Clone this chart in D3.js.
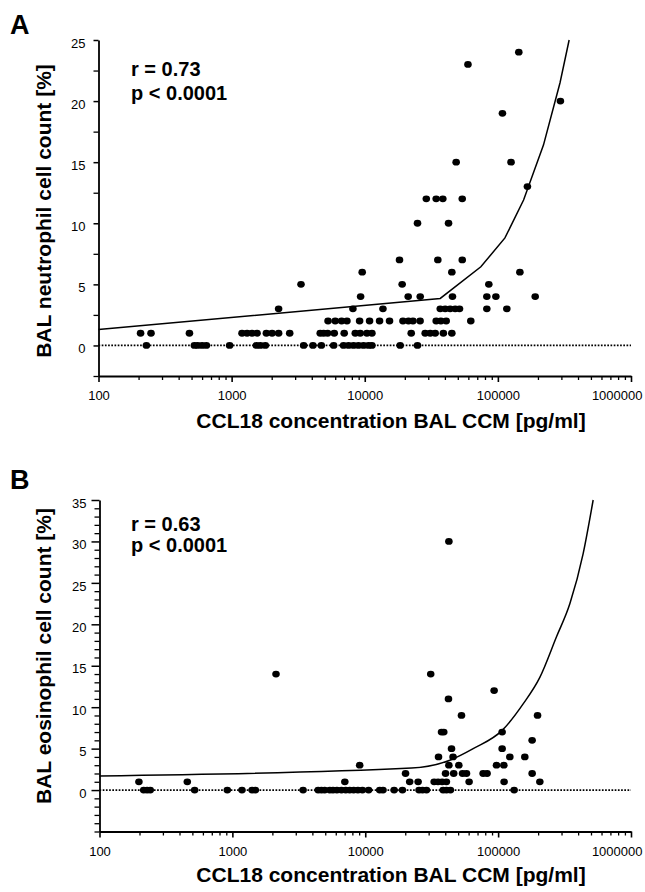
<!DOCTYPE html>
<html><head><meta charset="utf-8">
<script src="https://cdn.jsdelivr.net/npm/d3@7"></script>
<style>
body{margin:0;background:#fff}
svg{display:block}
text{font-family:"Liberation Sans",Arial,Helvetica,sans-serif;fill:#000}
</style>
</head><body>
<svg id="chart" width="645" height="892"></svg>
<script>
// ---------------- DATA ----------------
const xMajorTicks = [100, 1000, 10000, 100000, 1000000];
const xTickLabels = ["100", "1000", "10000", "100000", "1000000"];
const yTickLabelsA = [0, 5, 10, 15, 20, 25];
const yTickLabelsB = [0, 5, 10, 15, 20, 25, 30, 35];
const xTitle = "CCL18 concentration BAL CCM [pg/ml]";
const yTitleA = "BAL neutrophil cell count [%]";
const yTitleB = "BAL eosinophil cell count [%]";
const statsA = ["r = 0.73", "p < 0.0001"];
const statsB = ["r = 0.63", "p < 0.0001"];

// Panel A: [CCL18 pg/ml, neutrophil %]
const neutrophilPoints = [
  [229,0],[525,0],[556,0],[600,0],[646,0],[966,0],[1535,0],[1644,0],[1791,0],[3475,0],[4080,0],[4720,0],
  [5840,0],[6930,0],[7560,0],[8240,0],[8970,0],[9790,0],[10670,0],[11320,0],[18450,0],[24900,0],
  [207,1],[248,1],[482,1],[1197,1],[1306,1],[1423,1],[1552,1],[1824,1],[2013,1],[2254,1],[2731,1],
  [4630,1],[4910,1],[5260,1],[5900,1],[7010,1],[8490,1],[9250,1],[10380,1],[11320,1],[22340,1],
  [28440,1],[31040,1],[33810,1],[38950,1],[45100,1],
  [5300,2],[6000,2],[6700,2],[7350,2],[9150,2],[10870,2],[12920,2],[15350,2],[19360,2],[21320,2],
  [23020,2],[26050,2],[34400,2],[37300,2],[40900,2],[62600,2],
  [2254,3],[8150,3],[13700,3],[36900,3],[40200,3],[43800,3],[47800,3],[51500,3],[82600,3],[116700,3],
  [9310,4],[21200,4],[26100,4],[45600,4],[82600,4],[96600,4],[190700,4],
  [3320,5],[19100,5],[85500,5],
  [9570,6],[45100,6],[146300,6],
  [18240,7],[35400,7],[54000,7],
  [24900,10],[42600,10],
  [29000,12],[34400,12],[38600,12],[54000,12],
  [166700,13],
  [48600,15],[125600,15],
  [108200,19],
  [295000,20],
  [59600,23],
  [143600,24]
];
// Panel A regression line vertices
const fitLineA = [[100,1.3],[36900,3.85],[74500,6.44],[113000,8.8],[156000,11.9],[220000,16.4],[293000,21.5],[343000,25]];

// Panel B: [CCL18 pg/ml, eosinophil %]
const eosinophilPoints = [
  [215,0],[228,0],[241,0],[520,0],[916,0],[1181,0],[1407,0],[1489,0],[3405,0],[4420,0],[4680,0],[4950,0],
  [5410,0],[5720,0],[6120,0],[6620,0],[7130,0],[7640,0],[8180,0],[8810,0],[9520,0],[10600,0],[12850,0],
  [13600,0],[16490,0],[19050,0],[25400,0],[26970,0],[28900,0],[38550,0],[40830,0],[43750,0],[132000,0],
  [198,1],[458,1],[7020,1],[21600,1],[25000,1],[33000,1],[35300,1],[37900,1],[40800,1],[60500,1],[110900,1],[206000,1],
  [20100,2],[40200,2],[46300,2],[54000,2],[57800,2],[77100,2],[82600,2],[180300,2],
  [9080,3],[42600,3],[50600,3],[97200,3],[110400,3],
  [35600,4],[45800,4],[122500,4],[158800,4],
  [44600,5],[107200,5],
  [180300,6],
  [37500,7],[39000,7],[107200,7],
  [53000,9],[198000,9],
  [42300,11],
  [93300,12],
  [2130,14],[31100,14],
  [42600,30]
];
// Panel B regression line vertices
const fitLineB = [[100,1.7],[22300,2.65],[43300,3.6],[64900,5.0],[107200,7.2],[154300,10.4],[206000,13.6],[275000,18.5],[347000,22.5],[436000,28.5],[519000,35]];

// ---------------- DRAW ----------------
const svg = d3.select("#chart");
const FONT_TICK = 13, FONT_TITLE = 21;

function panel(cfg) {
  const g = svg.append("g");
  const x = d3.scaleLog().domain([100, 1000000]).range([cfg.x0, cfg.x1]);
  const y = d3.scaleLinear().domain(cfg.yDomain).range([cfg.yBottom, cfg.yTop]);

  // minor x ticks
  const minor = [];
  for (let d = 100; d < 1000000; d *= 10) for (let k = 2; k <= 9; k++) minor.push(d * k);
  g.append("g").attr("transform", `translate(0,${cfg.yBottom})`)
    .call(d3.axisBottom(x).tickValues(minor).tickSize(4).tickSizeOuter(0).tickFormat(""))
    .call(a => a.select(".domain").remove())
    .call(a => a.selectAll("line").attr("stroke", "#000").attr("stroke-width", 1.3));

  const xa = g.append("g").attr("transform", `translate(0,${cfg.yBottom})`)
    .call(d3.axisBottom(x).tickValues(xMajorTicks).tickSize(6).tickSizeOuter(0)
      .tickFormat((d, i) => xTickLabels[i]).tickPadding(9));
  xa.select(".domain").attr("stroke", "#000").attr("stroke-width", 1.8);
  xa.selectAll("line").attr("stroke", "#000").attr("stroke-width", 1.6);
  xa.selectAll("text").attr("font-size", FONT_TICK).attr("font-family", "Liberation Sans, Arial, sans-serif");
  xa.selectAll(".tick").filter(d => d === 1000000).select("text").attr("text-anchor", "end").attr("dx", 11);

  // y minor ticks
  g.append("g").attr("transform", `translate(${cfg.x0},0)`)
    .call(d3.axisLeft(y).tickValues(cfg.yMinor).tickSize(cfg.minorLen).tickSizeOuter(0).tickFormat(""))
    .call(a => a.select(".domain").remove())
    .call(a => a.selectAll("line").attr("stroke", "#000").attr("stroke-width", 1.3));
  const ya = g.append("g").attr("transform", `translate(${cfg.x0},0)`)
    .call(d3.axisLeft(y).tickValues(cfg.yLabels).tickSize(cfg.majorLen).tickSizeOuter(0).tickPadding(13 - cfg.majorLen));
  ya.select(".domain").attr("stroke", "#000").attr("stroke-width", 1.8);
  ya.selectAll("line").attr("stroke", "#000").attr("stroke-width", 1.5);
  ya.selectAll("text").attr("font-size", FONT_TICK).attr("font-family", "Liberation Sans, Arial, sans-serif").attr("dy", "0.55em");

  // zero reference line (dotted)
  g.append("line")
    .attr("x1", x(100)).attr("x2", x(1000000))
    .attr("y1", y(0)).attr("y2", y(0))
    .attr("stroke", "#000").attr("stroke-width", 1.8).attr("stroke-dasharray", "1.7,1.5");

  // regression line
  g.append("path").datum(cfg.fit)
    .attr("fill", "none").attr("stroke", "#000").attr("stroke-width", 1.5)
    .attr("d", d3.line().x(d => x(d[0])).y(d => y(d[1])).curve(cfg.curve));

  // points
  g.append("g").selectAll("ellipse").data(cfg.points).join("ellipse")
    .attr("cx", d => x(d[0])).attr("cy", d => y(d[1]))
    .attr("rx", 3.8).attr("ry", 3.4).attr("fill", "#000");

  // axis titles
  g.append("text").attr("x", 391).attr("y", cfg.xTitleY)
    .attr("text-anchor", "middle").attr("font-weight", "bold").attr("font-size", FONT_TITLE)
    .text(xTitle);
  g.append("text")
    .attr("transform", `translate(51,${cfg.yTitleCenter}) rotate(-90)`)
    .attr("text-anchor", "middle").attr("font-weight", "bold").attr("font-size", FONT_TITLE)
    .text(cfg.yTitle);

  // stats
  g.append("text").attr("x", 131).attr("y", cfg.statsY[0]).attr("font-weight", "bold").attr("font-size", 20).text(cfg.stats[0]);
  g.append("text").attr("x", 131).attr("y", cfg.statsY[1]).attr("font-weight", "bold").attr("font-size", 20).text(cfg.stats[1]);

  // panel letter
  g.append("text").attr("x", 10).attr("y", cfg.letterY).attr("font-weight", "bold").attr("font-size", 27).text(cfg.letter);
}

const minorA = d3.range(-2.5, 25.01, 2.5).filter(v => v % 5 !== 0);
const minorB = d3.range(-5, 35.01, 1).filter(v => v % 5 !== 0 || v === -5);

panel({
  letter: "A", letterY: 34,
  x0: 98.5, x1: 631, yTop: 40, yBottom: 376, yDomain: [-2.5, 25],
  yLabels: yTickLabelsA, yMinor: minorA, majorLen: 5, minorLen: 5,
  points: neutrophilPoints, fit: fitLineA, curve: d3.curveLinear,
  xTitleY: 428, yTitle: yTitleA, yTitleCenter: 211,
  stats: statsA, statsY: [76, 100]
});
panel({
  letter: "B", letterY: 489,
  x0: 99.5, x1: 631, yTop: 500, yBottom: 831.5, yDomain: [-5, 35],
  yLabels: yTickLabelsB, yMinor: minorB, majorLen: 8, minorLen: 5,
  points: eosinophilPoints, fit: fitLineB, curve: d3.curveMonotoneX,
  xTitleY: 882, yTitle: yTitleB, yTitleCenter: 656,
  stats: statsB, statsY: [531, 552]
});
</script>
</body></html>
